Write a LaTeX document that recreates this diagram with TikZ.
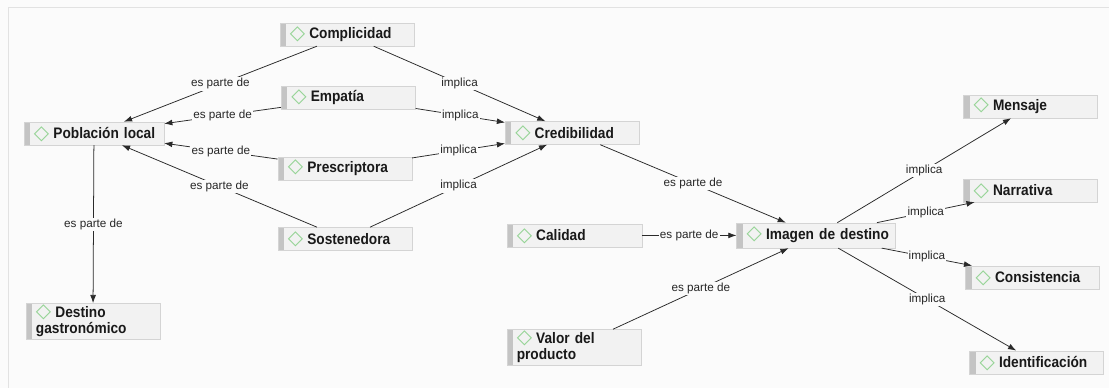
\documentclass[tikz,border=0pt]{standalone}
\usepackage{fontspec}
\setmainfont{Liberation Sans}
\newfontfamily\boxfont[FakeStretch=0.9]{Liberation Sans}
\newfontfamily\symfont{DejaVu Sans}
\usepackage{tikz}
\usepgflibrary{arrows}
\usetikzlibrary{arrows.meta}

\definecolor{bgcol}{HTML}{FBFBFB}
\definecolor{framecol}{HTML}{E2E2E2}
\definecolor{boxfill}{HTML}{F2F2F2}
\definecolor{boxline}{HTML}{D4D4D4}
\definecolor{barcol}{HTML}{C4C4C4}
\definecolor{diagreen}{HTML}{93D393}
\definecolor{linecol}{HTML}{2A2A2A}

\newcommand{\dia}{\hspace*{0.3cm}\smash{\raisebox{-0.5pt}{\symfont\fontsize{17}{17}\selectfont\color{diagreen}\char"25C7}}\hspace{3.5pt}}
\newcommand{\nxt}{\\\hspace*{0.3cm}}

\begin{document}
\begin{tikzpicture}[x=0.03cm,y=-0.03cm]
			\tikzset{box/.style = {shape=rectangle, draw=boxline, fill=boxfill,
					text=black!90, font=\boxfont\fontsize{13}{13.5}\selectfont\bfseries,
					text width=4.02cm, align=left, minimum height=0.69cm,
					inner ysep=2.5pt, inner xsep=0pt, 
					path picture={\fill[barcol] (path picture bounding box.north west)
						rectangle ([xshift=0.18cm]path picture bounding box.south west);}}}
			\tikzset{rel/.style = {-{Latex[length=7pt,width=5pt]}, draw=linecol, line width=0.65pt}}
			\tikzset{lbl/.style = {font=\fontsize{10}{11}\selectfont, text=black!85,
					fill=bgcol, inner sep=1pt}}
			
			% background
			\fill[bgcol] (0,0) rectangle (1109,388);
			\draw[framecol, line width=0.8pt] (8,388) -- (8,7) -- (1109,7);
			
			% vertices
			\node[box] (comp) at  (347,34.5) {\dia Complicidad};
			\node[box] (emp) at  (348.5,98) {\dia Empatía};
			\node[box, text width=4.2cm] (pob) at  (94,133.5) {\dia Población local};
			\node[box] (pres) at  (345,168.5) {\dia Prescriptora};
			\node[box] (sost) at  (345,239) {\dia Sostenedora};
			\node[box] (cred) at  (572.5,133) {\dia Credibilidad};
			\node[box, text width=4.05cm] (cal) at  (574.5,235.5) {\dia Calidad};
			\node[box, text width=4.77cm, minimum height=0.75cm] (img) at  (816.5,235.5) {\dia Imagen de destino};
			\node[box] (valor) at  (574,347.5) {\dia Valor del\nxt producto};
			\node[box] (dest) at  (93,321.5) {\dia Destino\nxt gastronómico};
			\node[box] (mens) at  (1031,106.5) {\dia Mensaje};
			\node[box] (narr) at  (1031,190.5) {\dia Narrativa};
			\node[box] (cons) at  (1033,277.5) {\dia Consistencia};
			\node[box] (iden) at  (1037,362.5) {\dia Identificación};
			
			%edges
			\draw[rel] (comp) to node[lbl] {es parte de} (pob);
			\draw[rel] (emp) to node[lbl] {es parte de} (pob);
			\draw[rel] (pres) to node[lbl] {es parte de} (pob);
			\draw[rel] (sost) to node[lbl] {es parte de} (pob);
			\draw[rel] (pob) to node[lbl] {es parte de} (dest);
			
			\draw[rel] (comp) to node[lbl] {implica} (cred);
			\draw[rel] (emp) to node[lbl] {implica} (cred);
			\draw[rel] (pres) to node[lbl] {implica} (cred);
			\draw[rel] (sost) to node[lbl] {implica} (cred);
			
			\draw[rel] (cred) to node[lbl] {es parte de} (img);
			\draw[rel] (cal) to node[lbl] {es parte de} (img);
			\draw[rel] (valor) to node[lbl] {es parte de} (img);
			
			\draw[rel] (img) to node[lbl] {implica} (mens);
			\draw[rel] (img) to node[lbl] {implica} (narr);
			\draw[rel] (img) to node[lbl] {implica} (cons);
			\draw[rel] (img) to node[lbl] {implica} (iden);
			
\end{tikzpicture}
\end{document}
